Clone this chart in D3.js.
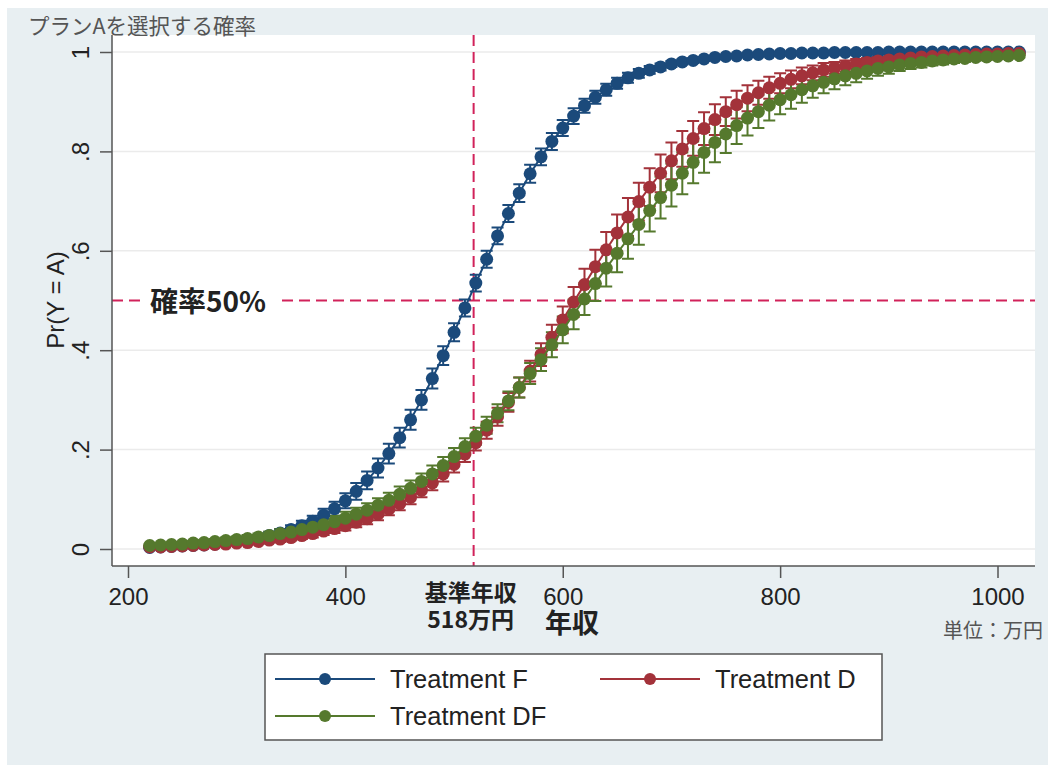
<!DOCTYPE html>
<html>
<head>
<meta charset="utf-8">
<script src="https://cdn.jsdelivr.net/npm/d3@7"></script>
<style>
  body { margin: 0; background: #fff; }
  svg { display: block; }
</style>
</head>
<body>
<div id="chart"></div>
<script>
/* Pr(Y = A) by income, three treatments, with CI caps */

const income = [220,230,240,250,260,270,280,290,300,310,
                320,330,340,350,360,370,380,390,400,410,
                420,430,440,450,460,470,480,490,500,510,
                520,530,540,550,560,570,580,590,600,610,
                620,630,640,650,660,670,680,690,700,710,
                720,730,740,750,760,770,780,790,800,810,
                820,830,840,850,860,870,880,890,900,910,
                920,930,940,950,960,970,980,990,1000,1010,1020];

const probF = [0.003,0.004,0.005,0.006,0.007,0.008,0.010,0.012,0.015,0.018,
               0.022,0.027,0.032,0.039,0.047,0.056,0.068,0.081,0.097,0.116,
               0.138,0.163,0.192,0.224,0.260,0.300,0.343,0.389,0.436,0.485,
               0.535,0.583,0.630,0.675,0.716,0.755,0.789,0.820,0.847,0.871,
               0.892,0.909,0.924,0.937,0.948,0.957,0.964,0.970,0.976,0.980,
               0.983,0.986,0.989,0.991,0.992,0.994,0.995,0.996,0.997,0.997,
               0.998,0.998,0.998,0.999,0.999,0.999,0.999,0.999,1.000,1.000,
               1.000,1.000,1.000,1.000,1.000,1.000,1.000,1.000,1.000,1.000,1.000];
const ciF = [0.001,0.001,0.002,0.002,0.002,0.003,0.003,0.004,0.004,0.005,
             0.006,0.007,0.008,0.009,0.010,0.011,0.013,0.014,0.015,0.017,
             0.018,0.019,0.020,0.020,0.020,0.020,0.020,0.019,0.018,0.017,
             0.017,0.017,0.017,0.017,0.018,0.018,0.017,0.017,0.016,0.016,
             0.014,0.013,0.012,0.011,0.010,0.009,0.008,0.007,0.006,0.005,
             0.005,0.004,0.003,0.003,0.002,0.002,0.002,0.002,0.001,0.001,
             0.001,0.001,0.001,0.001,0.001,0.001,0.001,0.001,0.001,0.001,
             0.001,0.001,0.001,0.001,0.001,0.001,0.001,0.001,0.001,0.001,0.001];

const probD = [0.004,0.004,0.005,0.006,0.007,0.008,0.009,0.010,0.012,0.013,
               0.015,0.018,0.020,0.023,0.027,0.031,0.036,0.041,0.047,0.054,
               0.061,0.070,0.080,0.091,0.104,0.118,0.133,0.151,0.170,0.191,
               0.214,0.239,0.266,0.295,0.325,0.358,0.391,0.426,0.461,0.497,
               0.532,0.568,0.602,0.636,0.668,0.699,0.728,0.756,0.781,0.805,
               0.826,0.846,0.864,0.880,0.894,0.907,0.918,0.928,0.937,0.945,
               0.952,0.958,0.964,0.968,0.972,0.976,0.979,0.982,0.984,0.986,
               0.988,0.990,0.991,0.992,0.993,0.994,0.995,0.996,0.996,0.997,0.997];
const ciD = [0.002,0.002,0.002,0.002,0.003,0.003,0.003,0.003,0.004,0.004,
             0.005,0.005,0.006,0.006,0.007,0.008,0.008,0.009,0.010,0.010,
             0.011,0.012,0.012,0.013,0.014,0.014,0.015,0.015,0.016,0.016,
             0.016,0.017,0.018,0.019,0.020,0.021,0.023,0.025,0.027,0.030,
             0.032,0.034,0.036,0.037,0.038,0.038,0.038,0.038,0.037,0.036,
             0.035,0.033,0.031,0.029,0.028,0.026,0.024,0.022,0.020,0.018,
             0.017,0.015,0.014,0.012,0.011,0.010,0.009,0.008,0.007,0.007,
             0.006,0.005,0.005,0.004,0.004,0.003,0.003,0.003,0.002,0.002,0.002];

const probDF = [0.007,0.008,0.009,0.010,0.012,0.013,0.015,0.017,0.019,0.021,
                0.024,0.027,0.031,0.034,0.039,0.044,0.049,0.055,0.062,0.070,
                0.078,0.088,0.098,0.110,0.122,0.136,0.151,0.168,0.186,0.206,
                0.227,0.249,0.273,0.298,0.325,0.353,0.381,0.411,0.441,0.472,
                0.503,0.534,0.565,0.595,0.624,0.653,0.681,0.707,0.732,0.756,
                0.778,0.798,0.818,0.835,0.852,0.867,0.880,0.893,0.904,0.914,
                0.924,0.932,0.939,0.946,0.952,0.957,0.962,0.967,0.970,0.974,
                0.977,0.979,0.982,0.984,0.986,0.987,0.989,0.990,0.991,0.992,0.993];
const ciDF = [0.003,0.003,0.004,0.004,0.004,0.005,0.005,0.006,0.006,0.007,
              0.007,0.008,0.009,0.009,0.010,0.011,0.011,0.012,0.013,0.013,
              0.014,0.014,0.015,0.016,0.016,0.016,0.017,0.017,0.017,0.017,
              0.017,0.017,0.018,0.019,0.020,0.021,0.023,0.025,0.027,0.030,
              0.032,0.035,0.037,0.038,0.040,0.041,0.042,0.042,0.043,0.042,
              0.042,0.041,0.040,0.038,0.037,0.035,0.033,0.031,0.029,0.028,
              0.026,0.024,0.022,0.021,0.019,0.018,0.016,0.015,0.014,0.012,
              0.011,0.010,0.009,0.009,0.008,0.007,0.006,0.006,0.005,0.005,0.004];

const seriesNames = ["Treatment F", "Treatment D", "Treatment DF"];
const seriesColors = ["#1b4a7b", "#a3323a", "#55792d"];
const xTicks = [200, 400, 600, 800, 1000];
const yTicks = [0, 0.2, 0.4, 0.6, 0.8, 1];
const baseIncome = 518;   // 基準年収
const halfLevel = 0.5;    // 確率50%

const series = seriesNames.map((name, k) => ({
    name: name,
    color: seriesColors[k],
    values: income.map((inc, i) => ({
        x: inc,
        p: [probF, probD, probDF][k][i],
        hw: [ciF, ciD, ciDF][k][i]
    }))
}));

const width = 1051,
      height = 771,
      plot = ({ left: 112, right: 1035, top: 35, bottom: 566 });

const latin = '"Liberation Sans", Arial, sans-serif',
      cjk = '"Noto Sans CJK JP", "Noto Sans", sans-serif',
      axisColor = "#555",
      refColor = "#d1225a";

let svg = d3.select("#chart")
    .append("svg")
    .attr("width", width)
    .attr("height", height);

// outer graph region + white plot region
svg.append("rect")
    .attr("x", 7).attr("y", 8)
    .attr("width", 1041).attr("height", 757)
    .attr("fill", "#e8eff2");
svg.append("rect")
    .attr("x", plot.left).attr("y", plot.top)
    .attr("width", plot.right - plot.left)
    .attr("height", plot.bottom - plot.top)
    .attr("fill", "#fff");

let x = d3.scaleLinear()
    .domain([200, 1000])
    .range([128, 997.5]);

let y = d3.scaleLinear()
    .domain([0, 1])
    .range([549, 52]);

// gridlines
svg.append("g")
    .selectAll("line")
    .data(yTicks)
    .join("line")
    .attr("x1", plot.left)
    .attr("x2", plot.right)
    .attr("y1", d => y(d))
    .attr("y2", d => y(d))
    .attr("stroke", "#ebebeb")
    .attr("stroke-width", 1.5);

// reference lines
svg.append("line")
    .attr("x1", plot.left).attr("x2", plot.right)
    .attr("y1", y(halfLevel)).attr("y2", y(halfLevel))
    .attr("stroke", refColor).attr("stroke-width", 2)
    .attr("stroke-dasharray", "11,6");
svg.append("line")
    .attr("x1", x(baseIncome)).attr("x2", x(baseIncome))
    .attr("y1", plot.top).attr("y2", plot.bottom)
    .attr("stroke", refColor).attr("stroke-width", 2)
    .attr("stroke-dasharray", "11,6");

// label on the 50% line, with a white box behind it
svg.append("rect")
    .attr("x", 141).attr("y", y(halfLevel) - 17)
    .attr("width", 138).attr("height", 34)
    .attr("fill", "#fff");
svg.append("text")
    .attr("x", 150).attr("y", y(halfLevel) + 11)
    .attr("font-family", cjk).attr("font-size", 28).attr("font-weight", "bold")
    .attr("fill", "#222")
    .text("確率50%");

// axes
let xAxis = svg.append("g")
    .attr("transform", `translate(0,${plot.bottom})`)
    .call(d3.axisBottom(x).tickValues(xTicks).tickSize(12).tickPadding(10).tickFormat(d3.format("d")));
xAxis.select(".domain").remove();
xAxis.attr("color", axisColor)
    .attr("font-family", latin)
    .attr("font-size", 24);
xAxis.selectAll("line").attr("stroke-width", 1.5);
xAxis.selectAll("text").attr("fill", "#222");

const yFormat = d => d === 0 ? "0" : d === 1 ? "1" : d3.format(".1f")(d).replace(/^0/, "");
let yAxis = svg.append("g")
    .attr("transform", `translate(${plot.left},0)`)
    .call(d3.axisLeft(y).tickValues(yTicks).tickSize(12).tickFormat(yFormat));
yAxis.select(".domain").remove();
yAxis.attr("color", axisColor)
    .attr("font-family", latin)
    .attr("font-size", 24);
yAxis.selectAll("line").attr("stroke-width", 1.5);
yAxis.selectAll("text")
    .attr("x", null)
    .attr("dy", null)
    .attr("fill", "#222")
    .attr("text-anchor", "middle")
    .attr("transform", "translate(-23,0) rotate(-90)");

svg.append("line")
    .attr("x1", plot.left).attr("x2", plot.right)
    .attr("y1", plot.bottom).attr("y2", plot.bottom)
    .attr("stroke", axisColor).attr("stroke-width", 1.5);
svg.append("line")
    .attr("x1", plot.left).attr("x2", plot.left)
    .attr("y1", plot.top).attr("y2", plot.bottom)
    .attr("stroke", axisColor).attr("stroke-width", 1.5);

// CI caps first (under every marker)
const capHalf = 6;
for (let s of series) {
    let g = svg.append("g")
        .attr("stroke", s.color)
        .attr("stroke-width", 2)
        .attr("fill", "none");
    g.selectAll("path")
        .data(s.values)
        .join("path")
        .attr("d", d => {
            let cx = x(d.x), lo = y(d.p - d.hw), hi = y(d.p + d.hw);
            return `M${cx - capHalf},${hi}H${cx + capHalf}M${cx},${hi}V${lo}M${cx - capHalf},${lo}H${cx + capHalf}`;
        });
}

// connected lines + markers
let line = d3.line()
    .x(d => x(d.x))
    .y(d => y(d.p));

for (let s of series) {
    svg.append("path")
        .datum(s.values)
        .attr("d", line)
        .attr("fill", "none")
        .attr("stroke", s.color)
        .attr("stroke-width", 2);
    svg.append("g")
        .selectAll("circle")
        .data(s.values)
        .join("circle")
        .attr("cx", d => x(d.x))
        .attr("cy", d => y(d.p))
        .attr("r", 6.5)
        .attr("fill", s.color);
}

// titles and notes
svg.append("text")
    .attr("x", 28).attr("y", 34)
    .attr("font-family", cjk).attr("font-size", 21.5)
    .attr("fill", "#555")
    .text("プランAを選択する確率");

svg.append("text")
    .attr("transform", "translate(64,300) rotate(-90)")
    .attr("text-anchor", "middle")
    .attr("font-family", latin).attr("font-size", 24)
    .attr("fill", "#222")
    .text("Pr(Y = A)");

svg.append("text")
    .attr("x", x(baseIncome) - 3).attr("y", 601)
    .attr("text-anchor", "middle")
    .attr("font-family", cjk).attr("font-size", 23).attr("font-weight", "bold")
    .attr("fill", "#222")
    .text("基準年収");
svg.append("text")
    .attr("x", x(baseIncome) - 3).attr("y", 628)
    .attr("text-anchor", "middle")
    .attr("font-family", cjk).attr("font-size", 23).attr("font-weight", "bold")
    .attr("fill", "#222")
    .text("518万円");

svg.append("text")
    .attr("x", 572).attr("y", 633)
    .attr("text-anchor", "middle")
    .attr("font-family", cjk).attr("font-size", 27).attr("font-weight", "bold")
    .attr("fill", "#222")
    .text("年収");

svg.append("text")
    .attr("x", 1043).attr("y", 638)
    .attr("text-anchor", "end")
    .attr("font-family", cjk).attr("font-size", 20)
    .attr("fill", "#555")
    .text("単位：万円");

// legend
let legend = svg.append("g");
legend.append("rect")
    .attr("x", 265).attr("y", 654)
    .attr("width", 617).attr("height", 86)
    .attr("fill", "#fff")
    .attr("stroke", "#555")
    .attr("stroke-width", 1.5);

const legendPos = [[275, 679], [600, 679], [275, 716]];
let item = legend.selectAll(".item")
    .data(series)
    .join("g")
    .attr("class", "item")
    .attr("transform", (d, i) => `translate(${legendPos[i][0]},${legendPos[i][1]})`);
item.append("line")
    .attr("x1", 0).attr("x2", 100)
    .attr("stroke", d => d.color)
    .attr("stroke-width", 2);
item.append("circle")
    .attr("cx", 50).attr("r", 6)
    .attr("fill", d => d.color);
item.append("text")
    .attr("x", 115).attr("y", 9)
    .attr("font-family", latin).attr("font-size", 25.5)
    .attr("fill", "#222")
    .text(d => d.name);
</script>
</body>
</html>
